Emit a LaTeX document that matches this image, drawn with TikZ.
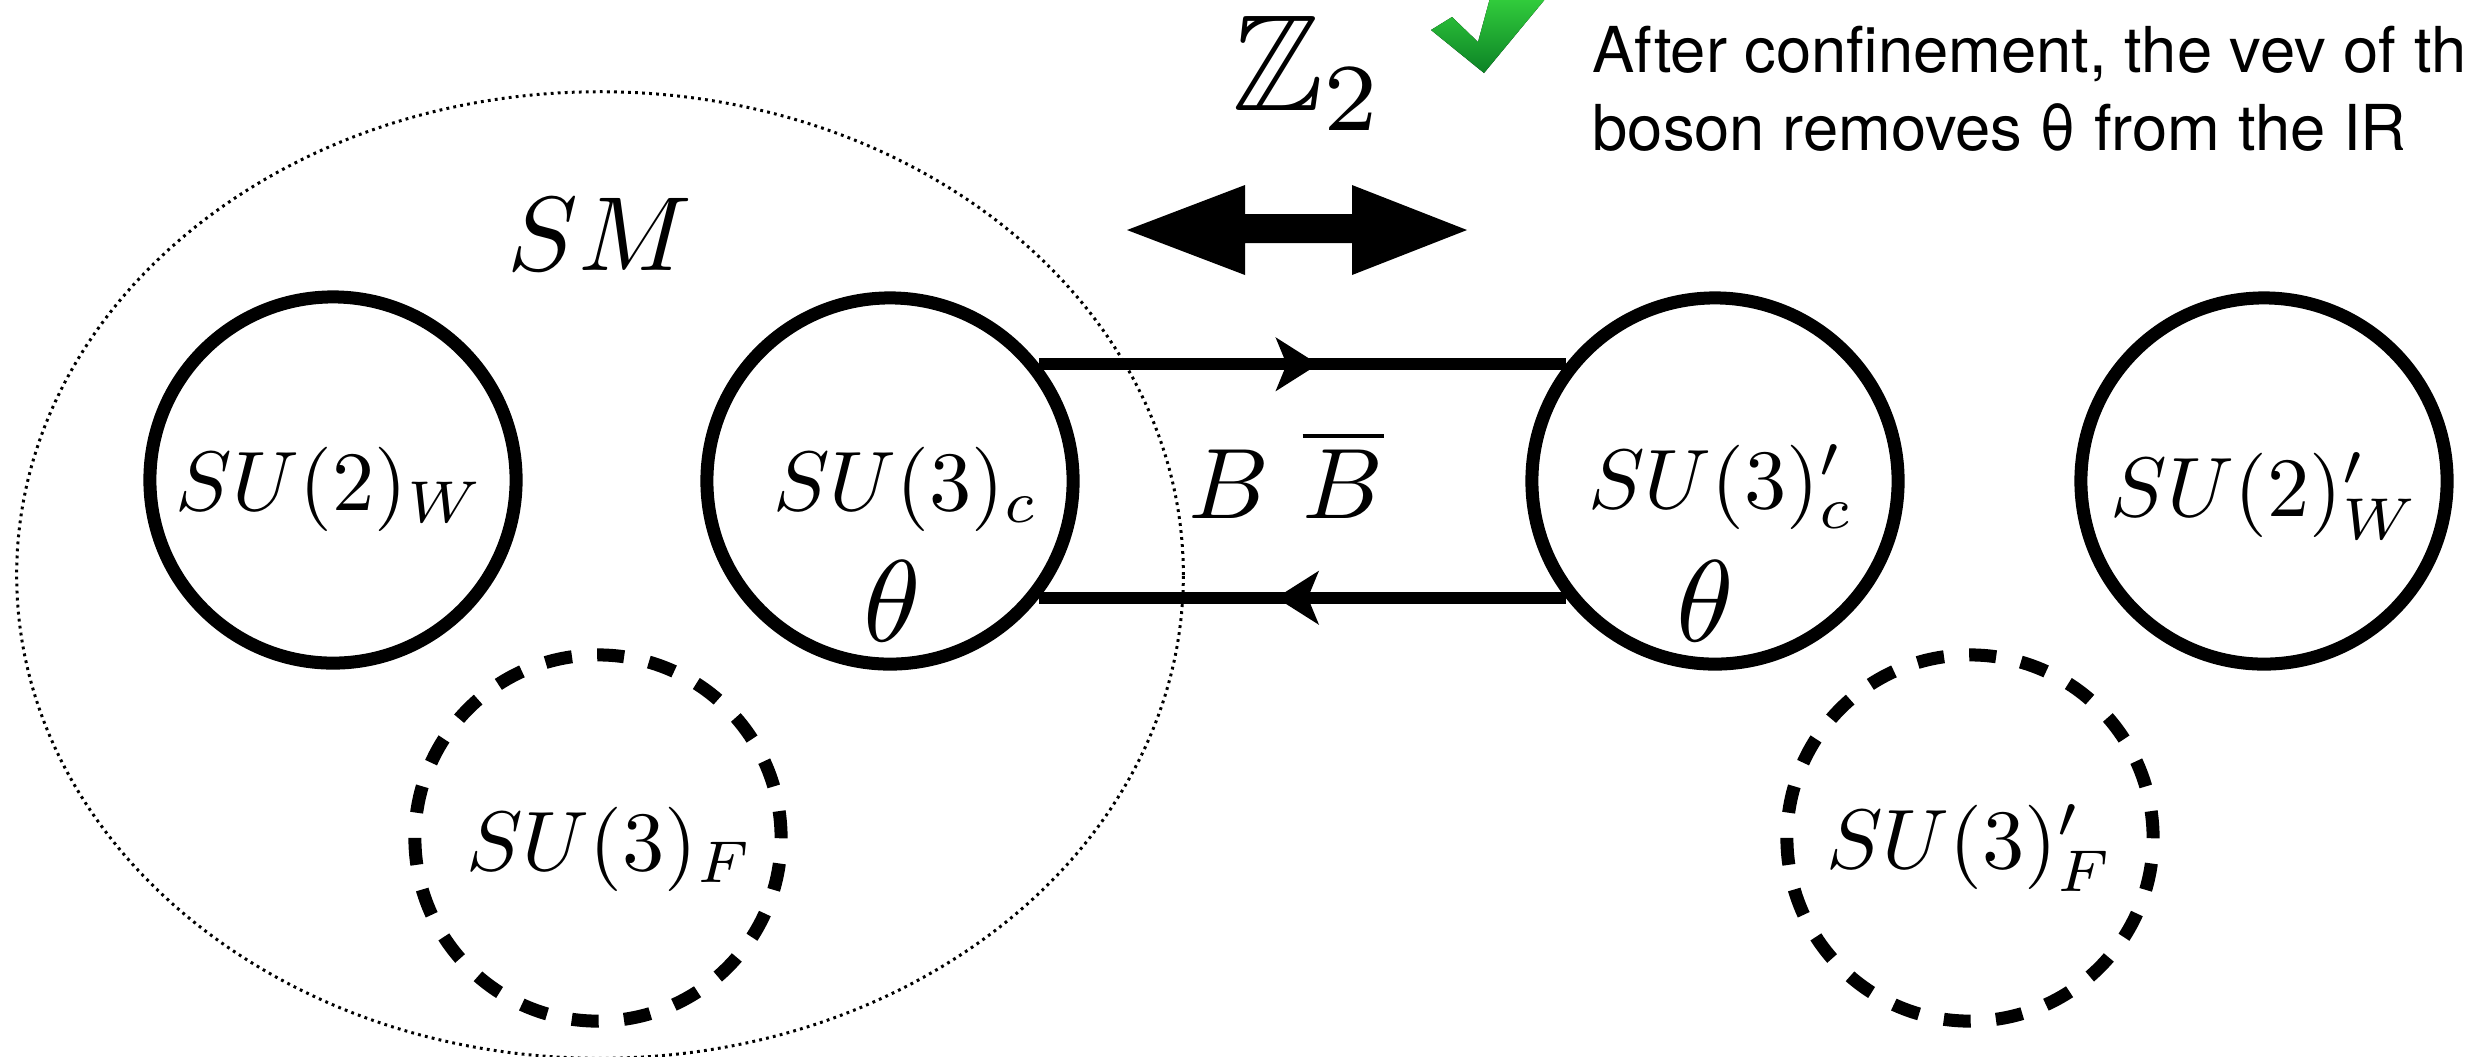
\documentclass[tikz,border=0pt]{standalone}
\usepackage{fontspec}
\usepackage{amssymb}
\newfontfamily\helv{TeX Gyre Heros}
\usetikzlibrary{arrows.meta,decorations.markings,shapes.geometric}
\newcommand{\scmath}[2]{\scalebox{#1}{$#2$}}
\begin{document}
\begin{tikzpicture}[x=0.01cm,y=-0.01cm,
  grp/.style={circle,draw,line width=3.7pt,minimum size=3.66cm,inner sep=0pt},
  flav/.style={grp,dash pattern=on 0.27cm off 0.2526cm},
  lab/.style={anchor=base,inner sep=0pt},
  note/.style={anchor=base west,inner sep=0pt,font={\helv\fontsize{18}{22}\selectfont}},
  fwd/.style={line width=3.4pt,postaction={decorate},
    decoration={markings,mark=at position #1 with {\arrow{Stealth[length=12pt,width=15pt,inset=3pt]}}}}
]
\useasboundingbox (0,0) rectangle (2479,1056);

% SM ellipse
\node[ellipse,draw=black,line width=0.85pt,dash pattern=on 0.8pt off 1.2pt,
      minimum width=11.66cm,minimum height=9.66cm,inner sep=0pt] (sm) at (600,575) {};
\node[lab] (smlab) at (600,270) {\scmath{3.0}{SM}};

% gauge groups
\node[grp] (c2) at (333,480) {};
\node[grp] (c3) at (890,481) {};
\node[grp] (c3p) at (1715,481) {};
\node[grp] (c2p) at (2264,481) {};
\node[flav] (f3) at (598,838) {};
\node[flav] (f3p) at (1970,838) {};

% labels
\node[lab] (l2) at (330,510) {\scmath{2.4}{SU(2)_W}};
\node[lab] (l3) at (906,510) {\scmath{2.4}{SU(3)_c}};
\node[lab] (t3) at (892,641) {\scmath{3.3}{\theta}};
\node[lab] (l3p) at (1721,508) {\scmath{2.4}{SU(3)'_c}};
\node[lab] (t3p) at (1705,641) {\scmath{3.3}{\theta}};
\node[lab] (l2p) at (2265,516) {\scmath{2.4}{SU(2)'_W}};
\node[lab] (lf) at (610,870) {\scmath{2.4}{SU(3)_F}};
\node[lab] (lfp) at (1970,868) {\scmath{2.4}{SU(3)'_F}};

% bifundamentals
\draw[fwd=0.53] (c3.38) -- (c3p.142);
\draw[fwd=0.55] (c3p.218) -- (c3.-38);
\node[lab] (bb) at (1286,518) {\scmath{2.85}{B\ \overline{B}}};

% Z2 symmetry
\node[lab] (z2) at (1309,110) {\scmath{3.9}{\mathbb{Z}_2}};
\fill (1127,230) -- (1245,185) -- (1245,214) -- (1352,214) -- (1352,185) -- (1467,230)
      -- (1352,275) -- (1352,243) -- (1245,243) -- (1245,275) -- cycle;

% check mark
\fill[top color={rgb,255:red,50;green,205;blue,60},bottom color={rgb,255:red,12;green,130;blue,38}]
  (1431,30) -- (1452,17) -- (1478,42) -- (1490,-2) -- (1546,-2) -- (1484,73) -- cycle;

% note
\node[note] (n1) at (1592,72) {After confinement, the vev of th};
\node[note] (n2) at (1592,150) {boson removes θ from the IR};
\end{tikzpicture}
\end{document}
